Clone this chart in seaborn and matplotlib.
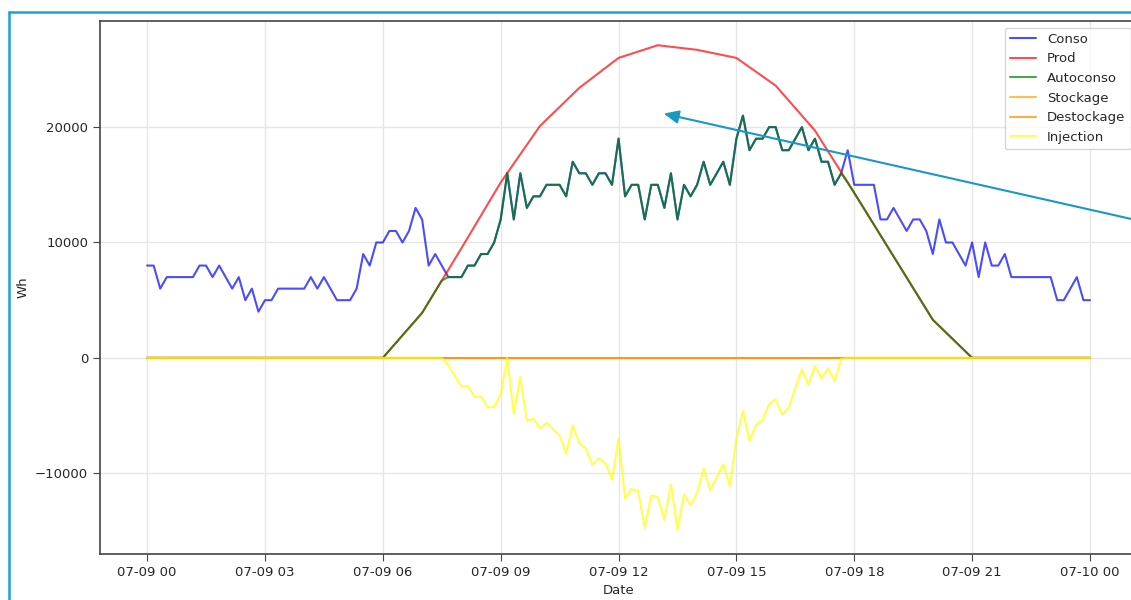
import matplotlib
matplotlib.use("Agg")
import matplotlib.pyplot as plt
import matplotlib.dates as mdates
from matplotlib.lines import Line2D
import seaborn as sns
import pandas as pd

# 10-minute samples over one day (07-09 00:00 -> 07-10 00:00), values in Wh
times = pd.date_range("2021-07-09 00:00", periods=145, freq="10min")
hours = pd.date_range("2021-07-09 00:00", periods=25, freq="h")

conso = [
    8000, 8000, 6000, 7000, 7000, 7000, 7000, 7000, 8000, 8000,
    7000, 8000, 7000, 6000, 7000, 5000, 6000, 4000, 5000, 5000,
    6000, 6000, 6000, 6000, 6000, 7000, 6000, 7000, 6000, 5000,
    5000, 5000, 6000, 9000, 8000, 10000, 10000, 11000, 11000, 10000,
    11000, 13000, 12000, 8000, 9000, 8000, 7000, 7000, 7000, 8000,
    8000, 9000, 9000, 10000, 12000, 16000, 12000, 16000, 13000, 14000,
    14000, 15000, 15000, 15000, 14000, 17000, 16000, 16000, 15000, 16000,
    16000, 15000, 19000, 14000, 15000, 15000, 12000, 15000, 15000, 13000,
    16000, 12000, 15000, 14000, 15000, 17000, 15000, 16000, 17000, 15000,
    19000, 21000, 18000, 19000, 19000, 20000, 20000, 18000, 18000, 19000,
    20000, 18000, 19000, 17000, 17000, 15000, 16000, 18000, 15000, 15000,
    15000, 15000, 12000, 12000, 13000, 12000, 11000, 12000, 12000, 11000,
    9000, 12000, 10000, 10000, 9000, 8000, 10000, 7000, 10000, 8000,
    8000, 9000, 7000, 7000, 7000, 7000, 7000, 7000, 7000, 5000,
    5000, 6000, 7000, 5000, 5000,
]

# hourly production
prod = [0, 0, 0, 0, 0, 0, 0, 3900, 9500, 15200, 20100, 23400, 26000,
        27100, 26700, 26000, 23600, 19700, 14300, 8800, 3300, 0, 0, 0, 0]

autoconso = [0] * 36 + [
    0, 650, 1300, 1950, 2600, 3250, 3900, 4833, 5767, 6700,
    7000, 7000, 7000, 8000, 8000, 9000, 9000, 10000, 12000, 16000,
    12000, 16000, 13000, 14000, 14000, 15000, 15000, 15000, 14000, 17000,
    16000, 16000, 15000, 16000, 16000, 15000, 19000, 14000, 15000, 15000,
    12000, 15000, 15000, 13000, 16000, 12000, 15000, 14000, 15000, 17000,
    15000, 16000, 17000, 15000, 19000, 21000, 18000, 19000, 19000, 20000,
    20000, 18000, 18000, 19000, 20000, 18000, 19000, 17000, 17000, 15000,
    16000, 15200, 14300, 13383, 12467, 11550, 10633, 9717, 8800, 7883,
    6967, 6050, 5133, 4217, 3300, 2750, 2200, 1650, 1100, 550, 0,
] + [0] * 18

stockage = [0] * 145
destockage = [0] * 145

injection = [0] * 46 + [
    -633, -1567, -2500, -2450, -3400, -3350, -4300, -4250, -3200, 0,
    -4833, -1650, -5467, -5283, -6100, -5650, -6200, -6750, -8300, -5850,
    -7400, -7833, -9267, -8700, -9133, -10567, -7000, -12183, -11367, -11550,
    -14733, -11917, -12100, -14033, -10967, -14900, -11833, -12767, -11700, -9583,
    -11467, -10350, -9233, -11117, -7000, -4600, -7200, -5800, -5400, -4000,
    -3600, -4950, -4300, -2650, -1000, -2350, -700, -1800, -900, -2000,
    -100,
] + [0] * 38

sns.set_style("ticks")
plt.rcParams["font.family"] = ["DejaVu Sans"]

fig = plt.figure(figsize=(11.31, 6.0), dpi=100)
ax = fig.add_axes([0.0884, 0.0767, 0.9170, 0.8883])

a = 0.7
sns.lineplot(x=times, y=conso, color="blue", alpha=a, label="Conso", ax=ax)
sns.lineplot(x=hours, y=prod, color="red", alpha=a, label="Prod", ax=ax)
sns.lineplot(x=times, y=autoconso, color="green", alpha=a, label="Autoconso", ax=ax)
sns.lineplot(x=times, y=stockage, color="orange", alpha=a, label="Stockage", ax=ax)
sns.lineplot(x=times, y=destockage, color="darkorange", alpha=a, label="Destockage", ax=ax)
sns.lineplot(x=times, y=injection, color="yellow", alpha=a, label="Injection", ax=ax)

ax.xaxis.set_major_locator(mdates.HourLocator(byhour=range(0, 24, 3)))
ax.xaxis.set_major_formatter(mdates.DateFormatter("%m-%d %H"))
ax.grid(True, color="#e6e6e6", linewidth=1)
ax.tick_params(labelsize=9.5, length=5, color="#444444")
for s in ax.spines.values():
    s.set_color("#444444")
    s.set_linewidth(1.2)
ax.set_xlabel("Date", fontsize=9.5)
ax.set_ylabel("Wh", fontsize=9.5)
ax.legend(loc="upper right", fontsize=9.5)

# screenshot frame and pointer arrow
frame = "#1ba3d6"
fig.add_artist(Line2D([0.008, 0.008], [0.0, 0.98], transform=fig.transFigure, color=frame, lw=1.8))
fig.add_artist(Line2D([0.008, 1.0], [0.98, 0.98], transform=fig.transFigure, color=frame, lw=1.8))
ax.annotate("", xy=(661 / 1131, 1 - 113 / 600), xycoords="figure fraction",
            xytext=(1.02, 1 - 224 / 600), textcoords="figure fraction",
            arrowprops=dict(arrowstyle="-|>,head_length=0.9,head_width=0.4",
                            color="#1a98c4", lw=1.5),
            annotation_clip=False)

fig.savefig("out.png", dpi=100)
